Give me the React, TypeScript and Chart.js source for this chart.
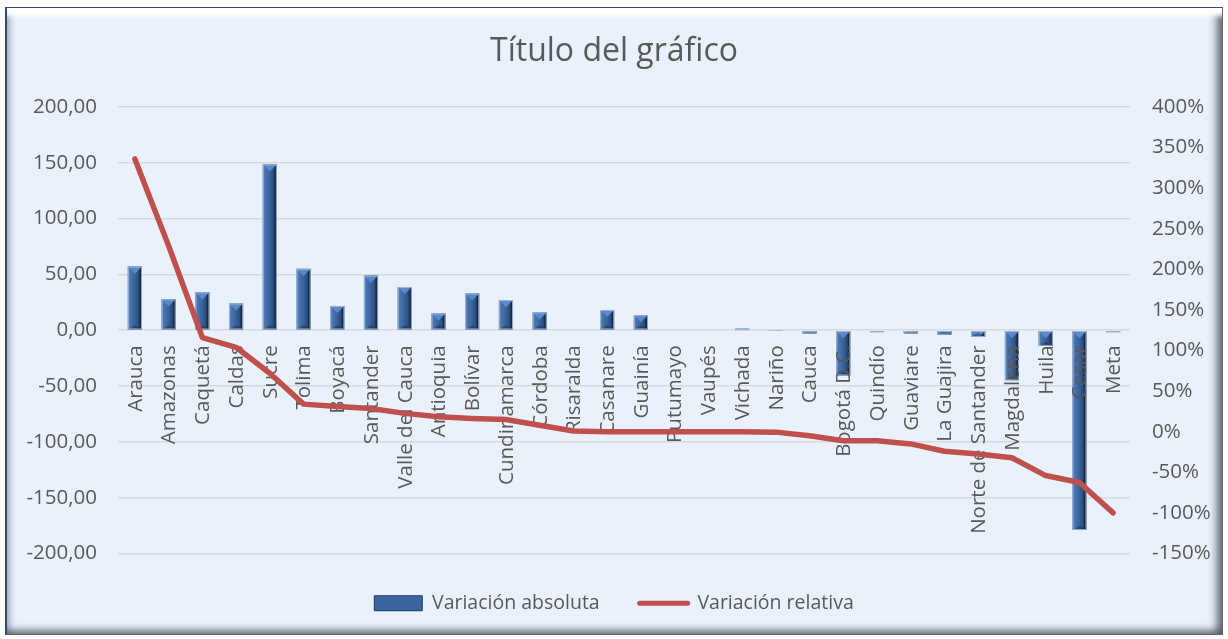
import React, { useEffect, useRef } from 'react';
import { Chart, registerables } from 'chart.js';

Chart.register(...registerables);

const categories = [
  'Arauca', 'Amazonas', 'Caquetá', 'Caldas', 'Sucre', 'Tolima', 'Boyacá', 'Santander',
  'Valle del Cauca', 'Antioquia', 'Bolívar', 'Cundinamarca', 'Córdoba', 'Risaralda',
  'Casanare', 'Guainía', 'Putumayo', 'Vaupés', 'Vichada', 'Nariño', 'Cauca', 'Bogotá D.C.',
  'Quindío', 'Guaviare', 'La Guajira', 'Norte de Santander', 'Magdalena', 'Huila', 'Cesar', 'Meta',
];

const absoluteVariation = [
  57, 27.8, 34, 24, 148.6, 55, 21.8, 49, 38.8, 15, 33, 27, 16, 0.7, 18.2, 13.5, 0, 0, 1.3, -0.5,
  -3, -40.5, -1.5, -3, -4, -6, -44.8, -14, -179, -1.5,
];

const relativeVariation = [
  336, 229, 116, 104, 72, 34, 31, 28.7, 22.6, 18.5, 16.4, 15, 8, 1, 0, 0, 0, 0, 0, -0.5,
  -5, -11, -11, -15, -24, -27.5, -32, -54, -62.5, -100,
];

const seriesLabels = ['Variación absoluta', 'Variación relativa'];
const chartTitle = 'Título del gráfico';
const leftTicks = [-200, 200, 50];
const rightTicks = [-150, 400, 50];

const FONT = '"Open Sans", "Noto Sans", sans-serif';
const TEXT = '#595959';

const bevelAndLabels = {
  id: 'bevelAndLabels',
  afterDatasetDraw(chart: any, args: any) {
    if (args.index !== 0) return;
    const ctx = chart.ctx;
    const meta = chart.getDatasetMeta(0);
    meta.data.forEach((el: any) => {
      const { x, y, base, width } = el.getProps(['x', 'y', 'base', 'width'], true);
      const left = x - width / 2;
      const right = x + width / 2;
      const top = Math.min(y, base);
      const bottom = Math.max(y, base);
      const h = bottom - top;
      if (h < 0.3) return;
      ctx.save();
      ctx.beginPath();
      ctx.rect(left, top, width, Math.max(h, 1));
      ctx.clip();
      const g = ctx.createLinearGradient(left, 0, right, 0);
      g.addColorStop(0, '#7097CF');
      g.addColorStop(0.14, '#4A76B2');
      g.addColorStop(0.45, '#3A659E');
      g.addColorStop(0.75, '#2B4E7E');
      g.addColorStop(0.86, '#182B45');
      g.addColorStop(1, '#16243A');
      ctx.fillStyle = g;
      ctx.fillRect(left, top, width, Math.max(h, 1));
      const b = width / 2;
      ctx.fillStyle = '#5A89CC';
      ctx.beginPath();
      ctx.moveTo(left, top);
      ctx.lineTo(right, top);
      ctx.lineTo(x, top + b);
      ctx.closePath();
      ctx.fill();
      ctx.fillStyle = 'rgba(10,20,40,0.35)';
      ctx.beginPath();
      ctx.moveTo(left, bottom);
      ctx.lineTo(right, bottom);
      ctx.lineTo(x, bottom - b * 0.6);
      ctx.closePath();
      ctx.fill();
      ctx.restore();
      ctx.save();
      ctx.strokeStyle = 'rgba(165,185,212,0.9)';
      ctx.lineWidth = 1;
      ctx.strokeRect(left + 0.5, top + 0.5, width - 1, Math.max(h - 1, 0.5));
      ctx.restore();
    });

    // category labels next to the zero line (drawn over bars, under the line)
    const xs = chart.scales.x;
    const ys = chart.scales.y;
    const zeroY = ys.getPixelForValue(0);
    ctx.save();
    ctx.font = `20.5px ${FONT}`;
    ctx.fillStyle = TEXT;
    ctx.textAlign = 'right';
    ctx.textBaseline = 'middle';
    categories.forEach((label, i) => {
      const px = xs.getPixelForValue(i);
      ctx.save();
      ctx.translate(px + 1, zeroY + 15);
      ctx.rotate(-Math.PI / 2);
      ctx.fillText(label, 0, 0);
      ctx.restore();
    });
    ctx.restore();
  },
};

export default function App() {
  const canvasRef = useRef<HTMLCanvasElement | null>(null);

  useEffect(() => {
    if (!canvasRef.current) return;
    const chart = new Chart(canvasRef.current, {
      type: 'bar',
      data: {
        labels: categories,
        datasets: [
          {
            type: 'bar',
            label: seriesLabels[0],
            data: absoluteVariation,
            backgroundColor: '#365E96',
            borderWidth: 0,
            barPercentage: 0.42,
            categoryPercentage: 1,
            yAxisID: 'y',
            order: 1,
          },
          {
            type: 'line',
            label: seriesLabels[1],
            data: relativeVariation,
            borderColor: '#C0504D',
            backgroundColor: '#C0504D',
            borderWidth: 5.5,
            borderJoinStyle: 'round',
            borderCapStyle: 'round',
            pointRadius: 0,
            tension: 0,
            fill: false,
            yAxisID: 'y1',
            order: 0,
          },
        ],
      } as any,
      options: {
        animation: false,
        responsive: false,
        maintainAspectRatio: false,
        layout: { padding: { left: 10, right: 10, top: 0, bottom: 16 } },
        scales: {
          x: { display: false, offset: true },
          y: {
            position: 'left',
            min: leftTicks[0],
            max: leftTicks[1],
            ticks: {
              stepSize: leftTicks[2],
              color: TEXT,
              font: { family: FONT, size: 20.5 },
              padding: 21,
              callback: (v: any) => Number(v).toFixed(2).replace('.', ','),
            },
            grid: { color: '#D9D9D9', lineWidth: 1.6, drawTicks: false },
            border: { display: false },
            afterFit: (s: any) => { s.width = 108; },
          },
          y1: {
            position: 'right',
            min: rightTicks[0],
            max: rightTicks[1],
            ticks: {
              stepSize: rightTicks[2],
              color: TEXT,
              font: { family: FONT, size: 20.5 },
              padding: 22,
              callback: (v: any) => `${v}%`,
            },
            grid: { display: false, drawTicks: false },
            border: { display: false },
            afterFit: (s: any) => { s.width = 88; },
          },
        },
        plugins: {
          tooltip: { enabled: false },
          title: {
            display: true,
            text: chartTitle,
            color: TEXT,
            font: { family: FONT, size: 32, weight: 'normal' },
            padding: { top: 33, bottom: 35.6 },
          },
          legend: {
            position: 'bottom',
            labels: {
              usePointStyle: true,
              pointStyleWidth: 48,
              boxHeight: 15,
              padding: 40,
              color: TEXT,
              font: { family: FONT, size: 19.5 },
              generateLabels: (c: any) =>
                c.data.datasets.map((ds: any, i: number) =>
                  i === 0
                    ? {
                        text: ds.label, fillStyle: '#3A659E', strokeStyle: '#1F3864', lineWidth: 1,
                        pointStyle: 'rect', datasetIndex: i, hidden: false, fontColor: TEXT,
                      }
                    : {
                        text: ds.label, fillStyle: '#C0504D', strokeStyle: '#C0504D', lineWidth: 5,
                        lineCap: 'round', pointStyle: 'line', datasetIndex: i, hidden: false, fontColor: TEXT,
                      }
                ),
            },
          },
        },
      } as any,
      plugins: [bevelAndLabels],
    });
    return () => chart.destroy();
  }, []);

  return (
    <div style={{ position: 'absolute', left: 0, top: 0, width: 1228, height: 639 }}>
      <div
        style={{
          position: 'absolute',
          left: 5,
          top: 7,
          width: 1218,
          height: 628,
          boxSizing: 'border-box',
          background: '#E9F2FC',
          borderLeft: '2px solid #2C4A75',
          borderTop: '1px solid #2C4A75',
          borderRight: '1px solid #5F6673',
          borderBottom: '1px solid #5F6673',
          boxShadow:
            'inset 0 14px 5px -6px #ffffff, inset -11px 0 8px -6px rgba(70,74,84,0.85), inset 0 -10px 7px -6px rgba(70,74,84,0.75), inset 9px 0 6px -6px rgba(110,122,145,0.6)',
        }}
      />
      <canvas
        ref={canvasRef}
        width={1228}
        height={639}
        style={{ position: 'absolute', left: 0, top: 0, width: 1228, height: 639 }}
      />
    </div>
  );
}
